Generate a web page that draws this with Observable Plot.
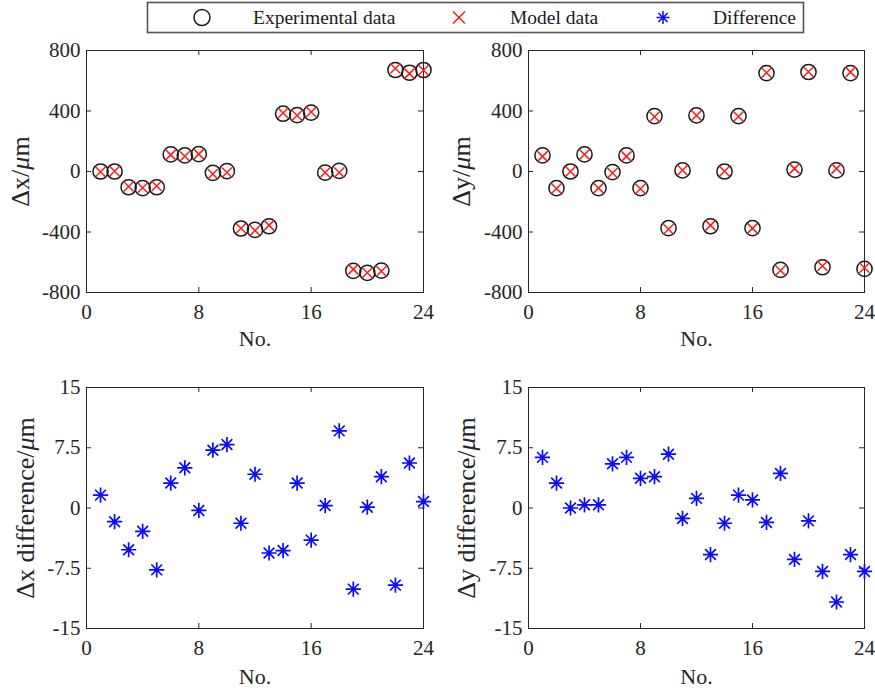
<!DOCTYPE html>
<html><head><meta charset="utf-8">
<script src="https://cdn.jsdelivr.net/npm/d3@7"></script>
<script src="https://cdn.jsdelivr.net/npm/@observablehq/plot@0.6"></script>
<style>
body{margin:0;background:#fff;}
#fig{position:relative;width:875px;height:692px;font-family:"Liberation Serif",serif;color:#262626;overflow:hidden;}
#fig svg{position:absolute;}
#fig svg, #fig svg text{font-family:"Liberation Serif",serif !important;}
</style></head><body><div id="fig"></div>
<script>
// ---- data ----
const sampleNo = [1,2,3,4,5,6,7,8,9,10,11,12,13,14,15,16,17,18,19,20,21,22,23,24];
const xTicks = [0, 8, 16, 24];
const posTicks = [-800, -400, 0, 400, 800];
const diffTicks = [-15, -7.5, 0, 7.5, 15];

const expDx   = [0,0,-104,-110,-104,113,106,115,-9,2,-377,-386,-362,382,373,389,-7,4,-657,-670,-655,671,653,671];
const modelDx = [-2,2,-99,-107,-96,110,101,115,-16,-6,-375,-390,-356,387,370,393,-7,-6,-647,-670,-659,681,647,670];
const expDy   = [106,-110,0,113,-110,-4,106,-110,366,-375,7,371,-362,0,366,-375,651,-651,13,658,-633,7,651,-644];
const modelDy = [100,-113,0,113,-110,-10,100,-114,362,-382,8,370,-356,2,364,-376,653,-655,19,660,-625,19,657,-636];
const diffDx  = [1.6,-1.7,-5.2,-2.9,-7.7,3.1,5.0,-0.3,7.2,7.9,-1.9,4.2,-5.6,-5.3,3.1,-4.0,0.3,9.6,-10.1,0.1,3.9,-9.6,5.6,0.8];
const diffDy  = [6.3,3.1,0.0,0.4,0.4,5.5,6.3,3.7,3.9,6.7,-1.3,1.2,-5.8,-1.9,1.6,1.0,-1.8,4.3,-6.4,-1.6,-7.9,-11.7,-5.8,-7.9];

const legendLabels = ["Experimental data", "Model data", "Difference"];
const xTitle = "No.";
const yTitles = ["Δx/μm", "Δy/μm", "Δx difference/μm", "Δy difference/μm"];

// ---- symbols ----
const crossSym = {draw(ctx, size){ const r = Math.sqrt(size/Math.PI);
  ctx.moveTo(-r,-r); ctx.lineTo(r,r); ctx.moveTo(-r,r); ctx.lineTo(r,-r); }};
const asteriskSym = {draw(ctx, size){ const r = Math.sqrt(size/Math.PI), d = r*Math.SQRT1_2;
  ctx.moveTo(-r,0); ctx.lineTo(r,0); ctx.moveTo(0,-r); ctx.lineTo(0,r);
  ctx.moveTo(-d,-d); ctx.lineTo(d,d); ctx.moveTo(-d,d); ctx.lineTo(d,-d); }};

const FONT = "Liberation Serif";
const INK = "#262626";
const fig = document.getElementById("fig");

function italicMu(svg){
  d3.select(svg).selectAll("text").each(function(){
    const t = this.textContent;
    if (!t.includes("μ") || this.querySelector("tspan")) return;
    const i = t.indexOf("μ");
    this.textContent = "";
    [t.slice(0,i), "μ", t.slice(i+1)].forEach((s,k) => {
      const ts = document.createElementNS("http://www.w3.org/2000/svg","tspan");
      ts.textContent = s;
      if (k === 1) ts.setAttribute("font-style","italic");
      this.appendChild(ts);
    });
  });
}

function panel(o){
  const fw = o.width - o.ml - o.mr, fh = o.height - o.mt - o.mb;
  const plot = Plot.plot({
    width: o.width, height: o.height,
    marginTop: o.mt, marginBottom: o.mb, marginLeft: o.ml, marginRight: o.mr,
    style: {fontFamily: FONT, fontSize: "21px", color: INK, background: "transparent", overflow: "visible"},
    x: {domain: [0, 24]},
    y: {domain: o.yDomain},
    marks: [
      Plot.frame({stroke: INK, strokeWidth: 1}),
      Plot.tickX(xTicks, {x: d => d, stroke: INK, insetTop: fh - 5}),
      Plot.tickX(xTicks, {x: d => d, stroke: INK, insetBottom: fh - 5}),
      Plot.tickY(o.yTicks, {y: d => d, stroke: INK, insetRight: fw - 5}),
      Plot.tickY(o.yTicks, {y: d => d, stroke: INK, insetLeft: fw - 5}),
      Plot.axisX({ticks: xTicks, tickSize: 0, tickPadding: 12, tickFormat: d => String(d), label: null, fill: INK, fontFamily: FONT, fontSize: 21}),
      Plot.axisY({ticks: o.yTicks, tickSize: 0, tickPadding: 6, tickFormat: d => String(d), label: null, fill: INK, fontFamily: FONT, fontSize: 21}),
      ...o.marks,
      Plot.text([xTitle], {text: d => d, frameAnchor: "bottom", lineAnchor: "bottom", dy: o.xdy, fontSize: 22, fontFamily: FONT, fill: INK}),
      Plot.text([o.yTitle], {text: d => d, frameAnchor: "left", rotate: -90, textAnchor: "middle", lineAnchor: "bottom", dx: o.ydx, fontSize: 26, fontFamily: FONT, fill: INK})
    ]
  });
  plot.style.position = "absolute";
  plot.style.left = o.left + "px";
  plot.style.top = o.top + "px";
  italicMu(plot);
  fig.appendChild(plot);
}

const circleMarks = (ys) => Plot.dot(sampleNo, {x: sampleNo, y: ys, r: 7.6, stroke: "#1a1a1a", strokeWidth: 1.5, fill: "none"});
const crossMarks = (ys) => Plot.dot(sampleNo, {x: sampleNo, y: ys, symbol: crossSym, r: 5, stroke: "#ff1a1a", strokeWidth: 1.5, fill: "none"});
const starMarks = (ys) => Plot.dot(sampleNo, {x: sampleNo, y: ys, symbol: asteriskSym, r: 7.6, stroke: "#0a0aff", strokeWidth: 1.7, fill: "none"});

panel({left: 0, top: 40, width: 437, height: 320, mt: 10, mb: 68, ml: 86, mr: 14,
  yDomain: [-800, 800], yTicks: posTicks, yTitle: yTitles[0], xdy: 53, ydx: -58,
  marks: [circleMarks(expDx), crossMarks(modelDx)]});
panel({left: 437, top: 40, width: 438, height: 320, mt: 10, mb: 68, ml: 91, mr: 11,
  yDomain: [-800, 800], yTicks: posTicks, yTitle: yTitles[1], xdy: 53, ydx: -59,
  marks: [circleMarks(expDy), crossMarks(modelDy)]});
panel({left: 0, top: 360, width: 437, height: 332, mt: 27, mb: 64, ml: 86, mr: 14,
  yDomain: [-15, 15], yTicks: diffTicks, yTitle: yTitles[2], xdy: 55, ydx: -53,
  marks: [starMarks(diffDx)]});
panel({left: 437, top: 360, width: 438, height: 332, mt: 27, mb: 64, ml: 91, mr: 11,
  yDomain: [-15, 15], yTicks: diffTicks, yTitle: yTitles[3], xdy: 55, ydx: -54,
  marks: [starMarks(diffDy)]});

// ---- legend ----
const lg = d3.select(fig).append("svg").attr("width", 875).attr("height", 40)
  .style("left", "0px").style("top", "0px");
lg.append("rect").attr("x", 147.5).attr("y", 2.5).attr("width", 656).attr("height", 30)
  .attr("fill", "#fff").attr("stroke", "#555").attr("stroke-width", 1.6);
const items = [
  {x: 202, tx: 253, path: d3.symbol(d3.symbolCircle, Math.PI*64)(), stroke: "#1a1a1a"},
  {x: 459, tx: 510, path: d3.symbol(crossSym, Math.PI*36)(), stroke: "#ff1a1a"},
  {x: 663, tx: 713, path: d3.symbol(asteriskSym, Math.PI*42)(), stroke: "#0a0aff"}
];
items.forEach((it, i) => {
  lg.append("path").attr("d", it.path).attr("transform", `translate(${it.x},17.5)`)
    .attr("fill", "none").attr("stroke", it.stroke).attr("stroke-width", 1.5);
  lg.append("text").attr("x", it.tx).attr("y", 24).attr("font-family", FONT)
    .attr("font-size", 19.5).attr("fill", "#1a1a1a").text(legendLabels[i]);
});
</script></body></html>
